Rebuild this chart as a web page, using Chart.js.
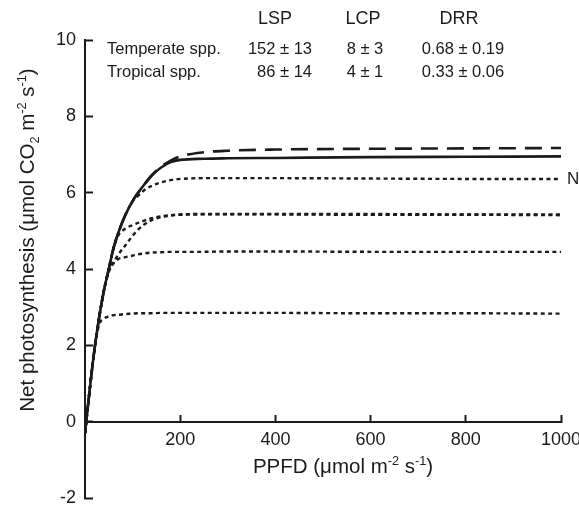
<!DOCTYPE html>
<html><head><meta charset="utf-8">
<script src="https://cdn.jsdelivr.net/npm/chart.js@4.4.0/dist/chart.umd.min.js"></script>
<style>html,body{margin:0;padding:0;background:#fff;}canvas{display:block;}</style>
</head><body>
<canvas id="c" width="579" height="508"></canvas>
<script>
// ---- data ----
const ppfd = [0,10,20,30,40,50,60,70,85,100,110,125,140,160,180,200,250,300,400,600,800,1000];
const solidCurve  = [-0.3,0.85,1.9,2.75,3.45,4.0,4.55,4.95,5.42,5.78,5.97,6.22,6.45,6.66,6.8,6.86,6.89,6.9,6.91,6.93,6.94,6.95];
const dashedCurve = [-0.3,0.85,1.9,2.75,3.45,4.0,4.55,4.95,5.42,5.78,5.97,6.22,6.45,6.68,6.84,6.95,7.06,7.1,7.13,7.15,7.16,7.17];
const dottedN = [-0.3,0.85,1.9,2.75,3.45,4.0,4.55,4.95,5.42,5.78,5.9,6.07,6.18,6.27,6.33,6.36,6.38,6.38,6.38,6.37,6.36,6.36];
const dottedA = [-0.3,0.85,1.9,2.75,3.45,4.0,4.55,4.88,5.06,5.15,5.2,5.27,5.33,5.38,5.41,5.43,5.44,5.44,5.44,5.44,5.43,5.43];
const dottedB = [-0.3,0.85,1.9,2.75,3.45,3.98,4.18,4.38,4.62,4.87,5.01,5.17,5.28,5.36,5.4,5.42,5.43,5.43,5.43,5.42,5.42,5.41];
const dottedC = [-0.3,0.85,1.9,2.75,3.45,3.92,4.15,4.26,4.31,4.35,4.38,4.41,4.43,4.44,4.45,4.45,4.45,4.46,4.46,4.45,4.45,4.45];
const dottedD = [-0.3,0.85,1.9,2.55,2.7,2.76,2.79,2.8,2.82,2.83,2.84,2.84,2.84,2.85,2.85,2.85,2.85,2.85,2.85,2.84,2.84,2.83];
const xTicks = [0,200,400,600,800,1000];
const yTicks = [-2,0,2,4,6,8,10];
const tableHeader = ['LSP','LCP','DRR'];
const groups = ['Temperate spp.','Tropical spp.'];
const lspVals = ['152 ± 13','86 ± 14'];
const lcpVals = ['8 ± 3','4 ± 1'];
const drrVals = ['0.68 ± 0.19','0.33 ± 0.06'];
const curveLabel = 'N';

// ---- styling ----
const INK = '#1b1b1b';
const FAMILY = '"Liberation Sans", Arial, Helvetica, sans-serif';

function drawRich(ctx, segs, cx, cy, size) {
  let total = 0;
  const parts = segs.map(([t, kind]) => {
    const sz = kind ? size * 0.62 : size;
    ctx.font = sz + 'px ' + FAMILY;
    const w = ctx.measureText(t).width;
    total += w;
    return {t, kind, sz, w};
  });
  let x = cx - total / 2;
  const base = cy + size * 0.36;
  ctx.textAlign = 'left';
  ctx.textBaseline = 'alphabetic';
  for (const p of parts) {
    ctx.font = p.sz + 'px ' + FAMILY;
    const dy = p.kind === 'sup' ? -size * 0.42 : (p.kind === 'sub' ? size * 0.22 : 0);
    ctx.fillText(p.t, x, base + dy);
    x += p.w;
  }
}

const textPlugin = {
  id: 'texts',
  afterDraw(chart) {
    const ctx = chart.ctx;
    const xs = chart.scales.x, ys = chart.scales.y;
    ctx.save();
    ctx.fillStyle = INK;
    // axis titles
    drawRich(ctx, [['PPFD (μmol m'], ['-2', 'sup'], [' s'], ['-1', 'sup'], [')']], 343, 466, 20.5);
    ctx.save();
    ctx.translate(27, 240);
    ctx.rotate(-Math.PI / 2);
    drawRich(ctx, [['Net photosynthesis (μmol CO'], ['2', 'sub'], [' m'], ['-2', 'sup'], [' s'], ['-1', 'sup'], [')']], 0, 0, 20.5);
    ctx.restore();
    // table
    ctx.textBaseline = 'middle';
    ctx.font = '18px ' + FAMILY;
    ctx.textAlign = 'center';
    const hx = [275, 363, 459];
    tableHeader.forEach((h, i) => ctx.fillText(h, hx[i], 19));
    ctx.font = '16.5px ' + FAMILY;
    const rowY = [49, 72];
    groups.forEach((g, i) => {
      ctx.textAlign = 'left';
      ctx.fillText(g, 107, rowY[i]);
      ctx.textAlign = 'right';
      ctx.fillText(lspVals[i], 312, rowY[i]);
      ctx.textAlign = 'center';
      ctx.fillText(lcpVals[i], 365, rowY[i]);
      ctx.fillText(drrVals[i], 463, rowY[i]);
    });
    // curve label
    ctx.font = '17px ' + FAMILY;
    ctx.textAlign = 'left';
    ctx.fillText(curveLabel, xs.getPixelForValue(ppfd[ppfd.length - 1]) + 6, ys.getPixelForValue(dottedN[dottedN.length - 1]));
    ctx.restore();
  }
};

const mk = (vals, dash, width) => ({
  data: ppfd.map((x, i) => ({x, y: vals[i]})),
  borderColor: INK,
  borderWidth: width,
  borderDash: dash,
  borderCapStyle: 'butt',
  fill: false,
  pointRadius: 0,
  cubicInterpolationMode: 'monotone'
});

const DOT = [4, 3.4];
new Chart(document.getElementById('c'), {
  type: 'line',
  data: {
    datasets: [
      mk(solidCurve, [], 2.6),
      mk(dashedCurve, [17, 9], 2.6),
      mk(dottedN, DOT, 2.4),
      mk(dottedA, DOT, 2.4),
      mk(dottedB, DOT, 2.4),
      mk(dottedC, DOT, 2.4),
      mk(dottedD, DOT, 2.4)
    ]
  },
  options: {
    responsive: false,
    animation: false,
    events: [],
    layout: {padding: {top: 40, right: 18, bottom: 10, left: 0}},
    plugins: {legend: {display: false}, tooltip: {enabled: false}, title: {display: false}},
    scales: {
      x: {
        type: 'linear', min: 0, max: 1000,
        position: {y: 0},
        border: {display: true, color: INK, width: 2},
        grid: {drawOnChartArea: false, drawTicks: true, tickLength: -8, tickWidth: 2, tickColor: INK},
        ticks: {padding: 16, color: INK, font: {size: 18, family: FAMILY}, maxRotation: 0, autoSkip: false,
                callback: v => (v === 0 ? '' : String(v))},
        afterBuildTicks: s => { s.ticks = xTicks.map(v => ({value: v})); },
        afterFit: s => { s.height = 0; s.paddingLeft = 0; s.paddingRight = 0; }
      },
      y: {
        type: 'linear', min: -2, max: 10, position: 'left',
        border: {display: true, color: INK, width: 2},
        grid: {drawOnChartArea: false, drawTicks: true, tickLength: -8, tickWidth: 2, tickColor: INK},
        ticks: {padding: 17, color: INK, font: {size: 18, family: FAMILY}},
        afterBuildTicks: s => { s.ticks = yTicks.map(v => ({value: v})); },
        afterFit: s => { s.width = 85; s.paddingTop = 0; s.paddingBottom = 0; }
      }
    }
  },
  plugins: [textPlugin]
});
</script>
</body></html>
